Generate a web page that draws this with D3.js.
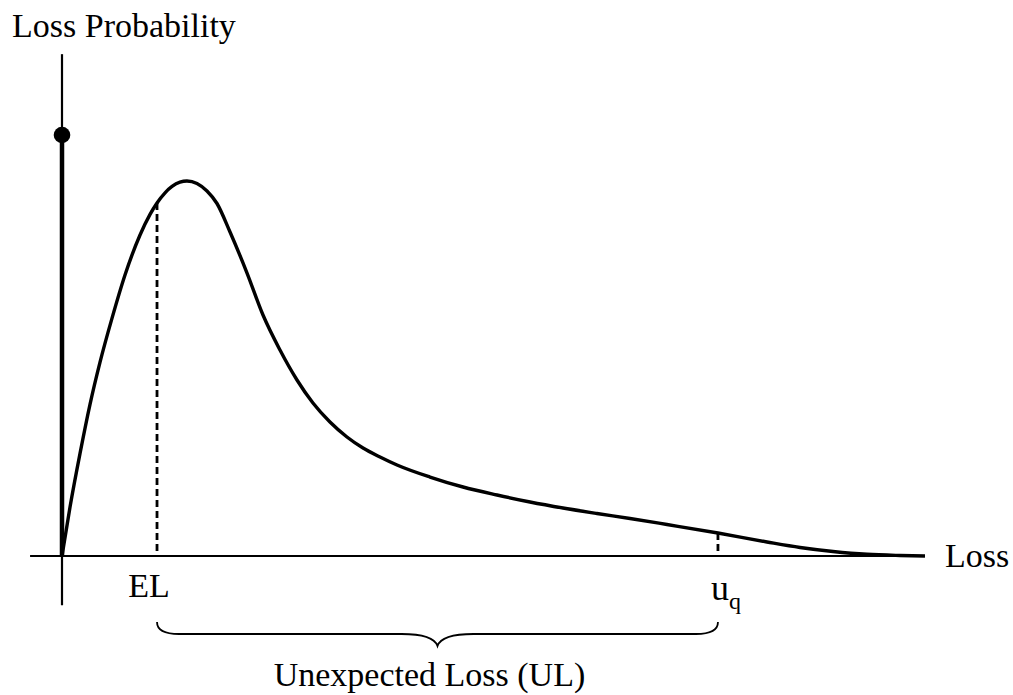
<!DOCTYPE html>
<html>
<head>
<meta charset="utf-8">
<script src="https://cdn.jsdelivr.net/npm/d3@7"></script>
<style>
  html, body { margin: 0; padding: 0; background: #fff; }
  svg { display: block; }
  text { font-family: "Liberation Serif", "Times New Roman", serif; fill: #000; }
</style>
</head>
<body>
<svg id="chart" width="1013" height="695"></svg>
<script>
// ---- data (loss in arbitrary units 0..100, probability density relative to point mass = 1) ----
const lossValues = [0, 0.93, 2.09, 3.24, 4.40, 5.79, 7.30, 9.04, 10.20, 11.01, 11.94, 12.75, 13.67, 14.48, 15.64, 16.80, 17.96, 19.47, 21.44, 23.29, 25.26, 27.23, 29.08, 31.05, 33.02, 34.88, 36.85, 38.82, 42.64, 46.47, 50.41, 54.23, 58.05, 61.99, 65.82, 70.10, 76.01, 81.69, 85.52, 89.34, 93.28, 97.10, 100];
const probValues = [0, 0.1164, 0.2437, 0.3596, 0.4599, 0.5644, 0.6675, 0.7625, 0.8114, 0.8385, 0.8627, 0.8777, 0.8879, 0.8907, 0.8848, 0.8670, 0.8373, 0.7696, 0.6722, 0.5724, 0.4893, 0.4181, 0.3634, 0.3183, 0.2827, 0.2565, 0.2352, 0.2162, 0.1876, 0.1639, 0.1449, 0.1283, 0.1140, 0.1010, 0.0891, 0.0748, 0.0546, 0.0333, 0.0202, 0.0107, 0.0040, 0.0012, 0];
const pointMass = [{loss: 0, prob: 1}];
const markers = [
  {name: "EL", loss: 11.01, prob: 0.8385},
  {name: "uq", loss: 76.01, prob: 0.0546}
];
const labels = {yAxis: "Loss Probability", xAxis: "Loss", brace: "Unexpected Loss (UL)"};

// ---- scales ----
const x = d3.scaleLinear().domain([0, 100]).range([62, 925]);
const y = d3.scaleLinear().domain([0, 1]).range([556, 135]);

const svg = d3.select("#chart");
const data = lossValues.map((l, i) => ({loss: l, prob: probValues[i]}));

// x axis line
svg.append("line")
  .attr("x1", x(-3.7)).attr("x2", x(99.2))
  .attr("y1", y(0)).attr("y2", y(0))
  .attr("stroke", "#000").attr("stroke-width", 2.2);

// y axis: thin top, thick middle, thin below
svg.append("line")
  .attr("x1", x(0)).attr("x2", x(0))
  .attr("y1", y(1.192)).attr("y2", y(1))
  .attr("stroke", "#000").attr("stroke-width", 2.2);
svg.append("line")
  .attr("x1", x(0)).attr("x2", x(0))
  .attr("y1", y(1)).attr("y2", y(0))
  .attr("stroke", "#000").attr("stroke-width", 4.5);
svg.append("line")
  .attr("x1", x(0)).attr("x2", x(0))
  .attr("y1", y(0)).attr("y2", y(-0.117))
  .attr("stroke", "#000").attr("stroke-width", 2.2);

// point mass dot
svg.selectAll("circle.pm").data(pointMass).enter().append("circle")
  .attr("cx", d => x(d.loss)).attr("cy", d => y(d.prob)).attr("r", 8.3)
  .attr("fill", "#000");

// dashed marker lines
svg.selectAll("line.marker").data(markers).enter().append("line")
  .attr("x1", d => x(d.loss)).attr("x2", d => x(d.loss))
  .attr("y1", d => y(d.prob)).attr("y2", y(0))
  .attr("stroke", "#000").attr("stroke-width", 2.8)
  .attr("stroke-dasharray", "7,4");

// curve
const line = d3.line().x(d => x(d.loss)).y(d => y(d.prob)).curve(d3.curveMonotoneX);
svg.append("path").datum(data)
  .attr("d", line)
  .attr("fill", "none").attr("stroke", "#000").attr("stroke-width", 3.4)
  .attr("stroke-linejoin", "round");

// labels
svg.append("text").attr("x", 12).attr("y", 37).attr("font-size", 34).text(labels.yAxis);
svg.append("text").attr("x", 945).attr("y", 567).attr("font-size", 34).text(labels.xAxis);

const el = markers[0], uq = markers[1];
svg.append("text").attr("x", x(el.loss) - 8).attr("y", 597).attr("font-size", 34)
  .attr("text-anchor", "middle").text("EL");
const uqText = svg.append("text").attr("x", x(uq.loss) - 7).attr("y", 600).attr("font-size", 36);
uqText.append("tspan").text("u");
uqText.append("tspan").attr("font-size", 24).attr("dy", 9).text("q");

// brace
const L = x(el.loss), R = x(uq.loss), C = (L + R) / 2;
const yTop = 622, yMid = 634, yTip = 646;
const bracePath = d3.path();
bracePath.moveTo(L, yTop);
bracePath.quadraticCurveTo(L, yMid, L + 22, yMid);
bracePath.lineTo(C - 36, yMid);
bracePath.quadraticCurveTo(C - 4, yMid, C, yTip);
bracePath.quadraticCurveTo(C + 4, yMid, C + 36, yMid);
bracePath.lineTo(R - 22, yMid);
bracePath.quadraticCurveTo(R, yMid, R, yTop);
svg.append("path").attr("d", bracePath.toString())
  .attr("fill", "none").attr("stroke", "#000").attr("stroke-width", 1.8);

svg.append("text").attr("x", C - 8).attr("y", 686).attr("font-size", 34)
  .attr("text-anchor", "middle").text(labels.brace);
</script>
</body>
</html>
